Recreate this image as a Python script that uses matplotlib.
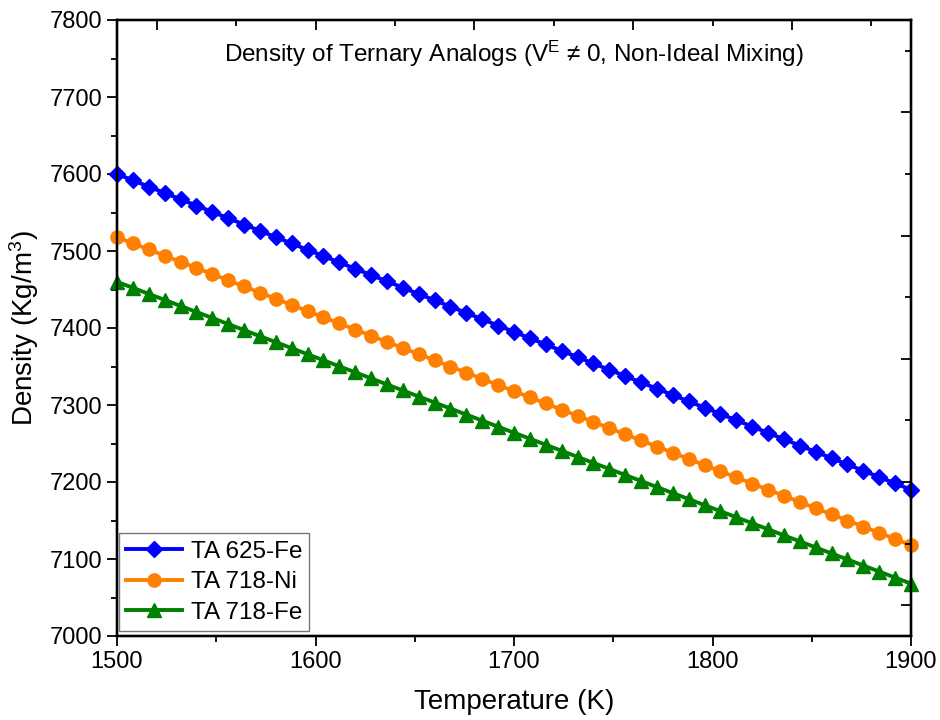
import matplotlib
matplotlib.use("Agg")
import matplotlib.pyplot as plt
from matplotlib.ticker import MultipleLocator

plt.rcParams['font.family'] = ['Liberation Sans', 'DejaVu Sans']
plt.rcParams['mathtext.fontset'] = 'custom'
plt.rcParams['mathtext.rm'] = 'Liberation Sans'

temperature = [1500, 1508, 1516, 1524, 1532, 1540, 1548, 1556, 1564, 1572,
               1580, 1588, 1596, 1604, 1612, 1620, 1628, 1636, 1644, 1652,
               1660, 1668, 1676, 1684, 1692, 1700, 1708, 1716, 1724, 1732,
               1740, 1748, 1756, 1764, 1772, 1780, 1788, 1796, 1804, 1812,
               1820, 1828, 1836, 1844, 1852, 1860, 1868, 1876, 1884, 1892, 1900]

ta625_fe = [7600.0, 7591.8, 7583.6, 7575.4, 7567.2, 7559.0, 7550.8, 7542.6, 7534.4, 7526.2,
            7518.0, 7509.8, 7501.6, 7493.4, 7485.2, 7477.0, 7468.8, 7460.6, 7452.4, 7444.2,
            7436.0, 7427.8, 7419.6, 7411.4, 7403.2, 7395.0, 7386.8, 7378.6, 7370.4, 7362.2,
            7354.0, 7345.8, 7337.6, 7329.4, 7321.2, 7313.0, 7304.8, 7296.6, 7288.4, 7280.2,
            7272.0, 7263.8, 7255.6, 7247.4, 7239.2, 7231.0, 7222.8, 7214.6, 7206.4, 7198.2, 7190.0]

ta718_ni = [7518, 7510, 7502, 7494, 7486, 7478, 7470, 7462, 7454, 7446,
            7438, 7430, 7422, 7414, 7406, 7398, 7390, 7382, 7374, 7366,
            7358, 7350, 7342, 7334, 7326, 7318, 7310, 7302, 7294, 7286,
            7278, 7270, 7262, 7254, 7246, 7238, 7230, 7222, 7214, 7206,
            7198, 7190, 7182, 7174, 7166, 7158, 7150, 7142, 7134, 7126, 7118]

ta718_fe = [7460.0, 7452.2, 7444.3, 7436.5, 7428.6, 7420.8, 7413.0, 7405.1, 7397.3, 7389.4,
            7381.6, 7373.8, 7365.9, 7358.1, 7350.2, 7342.4, 7334.6, 7326.7, 7318.9, 7311.0,
            7303.2, 7295.4, 7287.5, 7279.7, 7271.8, 7264.0, 7256.2, 7248.3, 7240.5, 7232.6,
            7224.8, 7217.0, 7209.1, 7201.3, 7193.4, 7185.6, 7177.8, 7169.9, 7162.1, 7154.2,
            7146.4, 7138.6, 7130.7, 7122.9, 7115.0, 7107.2, 7099.4, 7091.5, 7083.7, 7075.8, 7068.0]

series_labels = ['TA 625-Fe', 'TA 718-Ni', 'TA 718-Fe']
series_colors = ['#0000FF', '#FF8000', '#008000']
series_markers = ['D', 'o', '^']

fig = plt.figure(figsize=(9.4, 7.2), dpi=100)
ax = fig.add_axes([117/940, 1-636/720, (911-117)/940, (636-20)/720])

for vals, lab, col, mk, ms in zip([ta625_fe, ta718_ni, ta718_fe], series_labels,
                                  series_colors, series_markers, [8.5, 9.5, 9.5]):
    ax.plot(temperature, vals, color=col, marker=mk, markersize=ms, lw=2.8,
            label=lab, clip_on=False, zorder=3)

ax.set_xlim(1500, 1900)
ax.set_ylim(7000, 7800)
ax.xaxis.set_major_locator(MultipleLocator(100))
ax.xaxis.set_minor_locator(MultipleLocator(50))
ax.yaxis.set_major_locator(MultipleLocator(100))
ax.yaxis.set_minor_locator(MultipleLocator(50))
ax.tick_params(which='both', direction='out', width=1.3, labelsize=17, top=False, right=False)
ax.tick_params(which='major', length=7)
ax.tick_params(which='minor', length=4)
for sp in ax.spines.values():
    sp.set_linewidth(1.6)

# top and right secondary ticks (inward)
axt = ax.twiny()
axt.set_xlim(1500, 1900)
axt.xaxis.set_major_locator(MultipleLocator(80))
axt.xaxis.set_minor_locator(MultipleLocator(40))
axt.tick_params(which='both', direction='in', width=1.3, labeltop=False)
axt.tick_params(which='major', length=7)
axt.tick_params(which='minor', length=4)
axr = ax.twinx()
axr.set_ylim(7000, 7800)
axr.yaxis.set_major_locator(MultipleLocator(160))
axr.yaxis.set_minor_locator(MultipleLocator(80))
axr.tick_params(which='both', direction='in', width=1.3, labelright=False)
axr.tick_params(which='major', length=7)
axr.tick_params(which='minor', length=4)
for a in (axt, axr):
    for sp in a.spines.values():
        sp.set_linewidth(1.6)

ax.set_xlabel('Temperature (K)', fontsize=20, labelpad=12)
ax.set_ylabel(r'Density (Kg/m$\mathregular{^3}$)', fontsize=20, labelpad=6)
ax.text(0.5, 0.945, r'Density of Ternary Analogs (V$\mathregular{^E}$ ≠ 0, Non-Ideal Mixing)',
        transform=ax.transAxes, ha='center', va='center', fontsize=17.5)

leg = ax.legend(loc='lower left', bbox_to_anchor=(2/794, 5/616), borderaxespad=0,
                fontsize=17.5, frameon=True, fancybox=False,
                edgecolor='#555555', handlelength=2.3,
                labelspacing=0.35, handletextpad=0.35, borderpad=0.3)
leg.get_frame().set_linewidth(1.0)
leg.set_zorder(5)

fig.savefig('out.png', dpi=100)
